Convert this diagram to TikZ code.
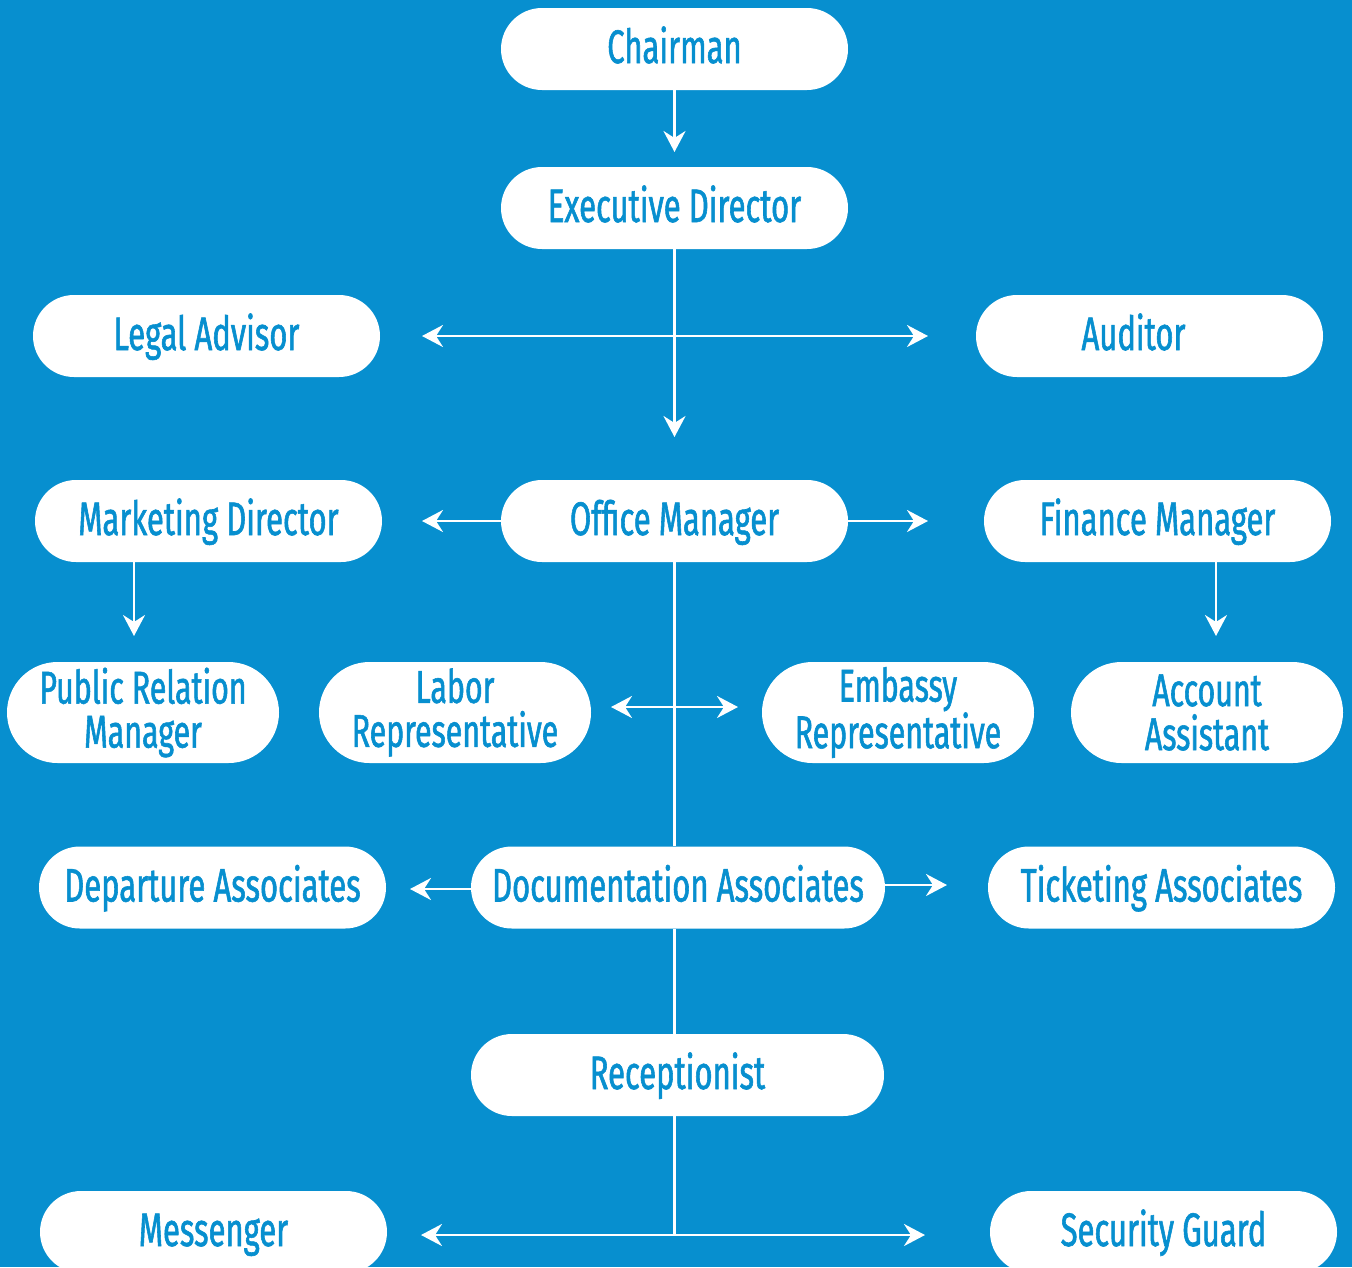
\documentclass[tikz,border=0pt]{standalone}
\usepackage{fontspec}
\setmainfont{Fira Sans}[FakeStretch=0.66, FakeBold=1.2]
\usetikzlibrary{
    arrows.meta,
    shapes.misc,
    positioning
}
\definecolor{chartblue}{RGB}{7,143,207}
\tikzset{
    pill/.style={rounded rectangle, fill=white, text=chartblue, align=center,
        minimum width=347pt, minimum height=82pt, inner sep=0pt,
        text height=34pt, text depth=6pt,
        font=\fontsize{47}{41}\selectfont},
    tallpill/.style={pill, minimum width=272pt, minimum height=101pt,
        text height={}, text depth={}, font=\fontsize{46}{44}\selectfont},
    link/.style={draw=white, line width=2.6pt},
    post/.style={link, -{Stealth[length=21pt,width=22pt,inset=7pt]}},
    dual/.style={link, {Stealth[length=21pt,width=22pt,inset=7pt]}-{Stealth[length=21pt,width=22pt,inset=7pt]}}
}

\begin{document}
\begin{tikzpicture}[x=1pt, y=-1pt]
    \fill[chartblue] (0, 0) rectangle (1352, 1267);
    \useasboundingbox (0, 0) rectangle (1352, 1267);

    \node[pill] (chair) at (674.5, 49) {Chairman};
    \node[pill] (exec) at (674.5, 208) {Executive Director};
    \node[pill] (legal) at (206.5, 336) {Legal Advisor};
    \node[pill] (audit) at (1149.5, 336) {\hspace*{-32pt}Auditor};
    \node[pill] (mkt) at (208.5, 521) {Marketing Director};
    \node[pill] (office) at (674.5, 521) {Office Manager};
    \node[pill] (fin) at (1157.5, 521) {Finance Manager};
    \node[tallpill] (pr) at (143, 712.5) {Public Relation\\Manager};
    \node[tallpill] (labor) at (455, 712.5) {Labor\\Representative};
    \node[tallpill] (embassy) at (898, 712.5) {Embassy\\Representative};
    \node[tallpill] (account) at (1207, 712.5) {Account\\Assistant};
    \node[pill] (depart) at (212.5, 887.5) {Departure Associates};
    \node[pill, minimum width=414pt] (doc) at (678, 887.5) {Documentation Associates};
    \node[pill] (ticket) at (1161.5, 887.5) {Ticketing Associates};
    \node[pill, minimum width=413pt] (recep) at (677.5, 1075) {Receptionist};
    \node[pill] (mess) at (213.5, 1232) {Messenger};
    \node[pill] (guard) at (1163.5, 1232) {Security Guard};

    % free arrow ends
    \coordinate (chairend) at (674.5, 152);
    \coordinate (execend) at (674.5, 437);
    \coordinate (legalend) at (422, 336);
    \coordinate (auditend) at (928, 336);
    \coordinate (mktend) at (422, 521);
    \coordinate (finend) at (928, 521);
    \coordinate (prend) at (134, 636);
    \coordinate (accend) at (1216, 636);
    \coordinate (laborend) at (611, 707);
    \coordinate (embend) at (738, 707);
    \coordinate (departend) at (410, 889);
    \coordinate (ticketend) at (947, 885);
    \coordinate (messend) at (421, 1235);
    \coordinate (guardend) at (925, 1235);

    \draw[post] (chair.south) -- (chairend);
    \draw[post] (exec.south) -- (execend);
    \draw[dual] (legalend) -- (auditend);
    \draw[post] (office.west) -- (mktend);
    \draw[post] (office.east) -- (finend);
    \draw[post] (mkt.south -| prend) -- (prend);
    \draw[post] (fin.south -| accend) -- (accend);
    \draw[link] (office.south) -- (office.south |- doc.north);
    \draw[dual] (laborend) -- (embend);
    \draw[post] (doc.west |- departend) -- (departend);
    \draw[post] (doc.east |- ticketend) -- (ticketend);
    \draw[link] (doc.south -| office.south) -- (recep.north -| office.south);
    \draw[link] (recep.south -| office.south) -- (office.south |- messend);
    \draw[dual] (messend) -- (guardend);
\end{tikzpicture}
\end{document}
